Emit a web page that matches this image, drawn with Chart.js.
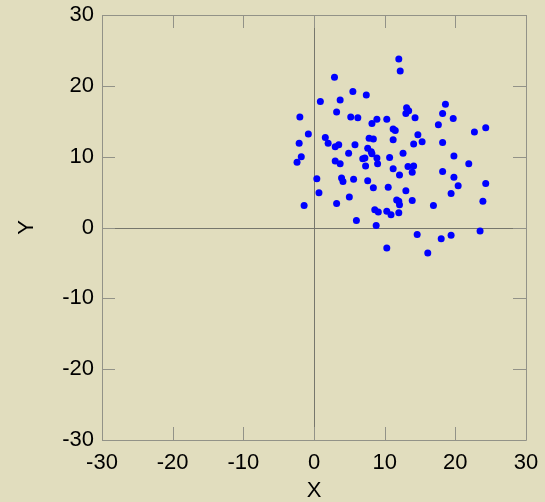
<!DOCTYPE html>
<html>
<head>
<meta charset="utf-8">
<script src="https://cdn.jsdelivr.net/npm/chart.js@4/dist/chart.umd.min.js"></script>
<style>
  html, body { margin: 0; padding: 0; background: #e1ddbe; }
  #wrap { width: 545px; height: 502px; }
</style>
</head>
<body>
<div id="wrap"><canvas id="c" width="545" height="502"></canvas></div>
<script>
// point cloud
const xValues = [12.0, 12.2, 2.9, 5.5, 7.4, 3.7, 0.9, 13.1, 13.4, 13.0, 14.3, -2.0, 3.2, 5.2, 6.2, 8.9, 8.2, 10.3, -0.8, 11.2,
  11.5, 14.7, 7.8, 8.4, 11.2, -2.1, 1.6, 2.0, 3.0, 3.5, 5.8, 14.1, 15.3, 18.2, -1.8, -2.4, 4.9, 7.6, 8.1, 8.2,
  7.2, 6.9, 8.9, 10.7, 12.6, 3.0, 3.7, 7.3, 9.0, 11.2, 13.3, 14.1, 13.9, 12.1, 0.4, 3.9, 4.1, 5.6, 7.6, 8.4,
  10.5, 13.0, 0.7, 5.0, 3.2, 11.7, 12.0, 12.1, 13.9, -1.4, 8.6, 9.1, 10.3, 10.9, 12.0, 6.0, 8.8, 14.6, 10.3, 19.8,
  21.9, 18.2, 19.8, 20.4, 24.3, 19.4, 16.9, 23.9, 23.5, 18.0, 19.4, 16.1, 18.6, 18.2, 19.7, 17.6, 22.7, 24.3];
const yValues = [23.8, 22.1, 21.2, 19.2, 18.7, 18.0, 17.8, 16.9, 16.5, 16.1, 15.5, 15.6, 16.3, 15.6, 15.5, 15.3, 14.7, 15.3, 13.2, 13.9,
  13.7, 13.1, 12.6, 12.5, 12.4, 11.9, 12.7, 11.9, 11.4, 11.7, 11.7, 11.8, 12.1, 12.0, 10.0, 9.2, 10.5, 11.2, 10.7, 10.4,
  9.8, 9.7, 9.8, 9.9, 10.5, 9.4, 9.0, 8.7, 9.0, 8.3, 8.6, 8.7, 7.8, 7.4, 6.9, 7.0, 6.5, 6.8, 6.6, 5.6,
  5.7, 5.2, 4.9, 4.3, 3.4, 3.9, 3.7, 3.2, 3.8, 3.1, 2.5, 2.2, 2.3, 1.8, 2.1, 1.0, 0.3, -1.0, -2.9, 10.1,
  9.0, 7.9, 7.1, 5.9, 6.2, 4.8, 3.1, 3.7, -0.5, -1.6, -1.1, -3.6, 17.4, 16.1, 15.4, 14.5, 13.5, 14.1];
const axisMin = -30, axisMax = 30, tickStep = 10;

const points = xValues.map((x, i) => ({ x: x, y: yValues[i] }));
const tickValues = [];
for (let v = axisMin; v <= axisMax; v += tickStep) tickValues.push(v);

// box frame, inward ticks on all four sides and the zero lines
const framePlugin = {
  id: "frame",
  beforeDatasetsDraw(chart) {
    const { ctx, chartArea: a, scales } = chart;
    const xs = scales.x, ys = scales.y;
    const len = 13;
    ctx.save();
    ctx.lineWidth = 1;
    ctx.strokeStyle = "#76766c";
    const x0 = xs.getPixelForValue(0), y0 = ys.getPixelForValue(0);
    ctx.beginPath();
    ctx.moveTo(Math.round(x0) + 0.5, a.top); ctx.lineTo(Math.round(x0) + 0.5, a.bottom);
    ctx.moveTo(a.left, Math.round(y0) + 0.5); ctx.lineTo(a.right, Math.round(y0) + 0.5);
    ctx.stroke();

    ctx.strokeStyle = "#929288";
    ctx.beginPath();
    ctx.rect(Math.round(a.left) + 0.5, Math.round(a.top) + 0.5, Math.round(a.right - a.left), Math.round(a.bottom - a.top));
    tickValues.forEach(v => {
      const px = Math.round(xs.getPixelForValue(v)) + 0.5;
      const py = Math.round(ys.getPixelForValue(v)) + 0.5;
      ctx.moveTo(px, a.bottom); ctx.lineTo(px, a.bottom - len);
      ctx.moveTo(px, a.top); ctx.lineTo(px, a.top + len);
      ctx.moveTo(a.left, py); ctx.lineTo(a.left + len, py);
      ctx.moveTo(a.right, py); ctx.lineTo(a.right - len, py);
    });
    ctx.stroke();
    ctx.restore();
  }
};

const tickFont = { family: "'Liberation Sans', Arial, sans-serif", size: 22, lineHeight: 1 };

new Chart(document.getElementById("c"), {
  type: "scatter",
  data: {
    datasets: [{
      data: points,
      backgroundColor: "#0000ff",
      borderColor: "#0000ff",
      pointRadius: 3.5,
      pointBorderWidth: 0
    }]
  },
  options: {
    responsive: false,
    animation: false,
    layout: { padding: { top: 15, right: 19, left: 0, bottom: 0 } },
    plugins: { legend: { display: false }, tooltip: { enabled: false } },
    scales: {
      x: {
        type: "linear",
        min: axisMin, max: axisMax,
        // fixed box so the plot area lands where the original's does
        afterFit: (s) => { s.height = 62; s.paddingLeft = 0; s.paddingRight = 0; },
        ticks: { stepSize: tickStep, color: "#000", font: tickFont, padding: 12, maxRotation: 0 },
        grid: { display: false, drawTicks: false },
        border: { display: false },
        title: { display: true, text: "X", color: "#000", font: tickFont, padding: 0 }
      },
      y: {
        type: "linear",
        min: axisMin, max: axisMax,
        afterFit: (s) => { s.width = 102; s.paddingTop = 0; s.paddingBottom = 0; },
        ticks: { stepSize: tickStep, color: "#000", font: tickFont, padding: 8 },
        grid: { display: false, drawTicks: false },
        border: { display: false },
        title: { display: true, text: "Y", color: "#000", font: tickFont, padding: 16 }
      }
    }
  },
  plugins: [framePlugin]
});
</script>
</body>
</html>
